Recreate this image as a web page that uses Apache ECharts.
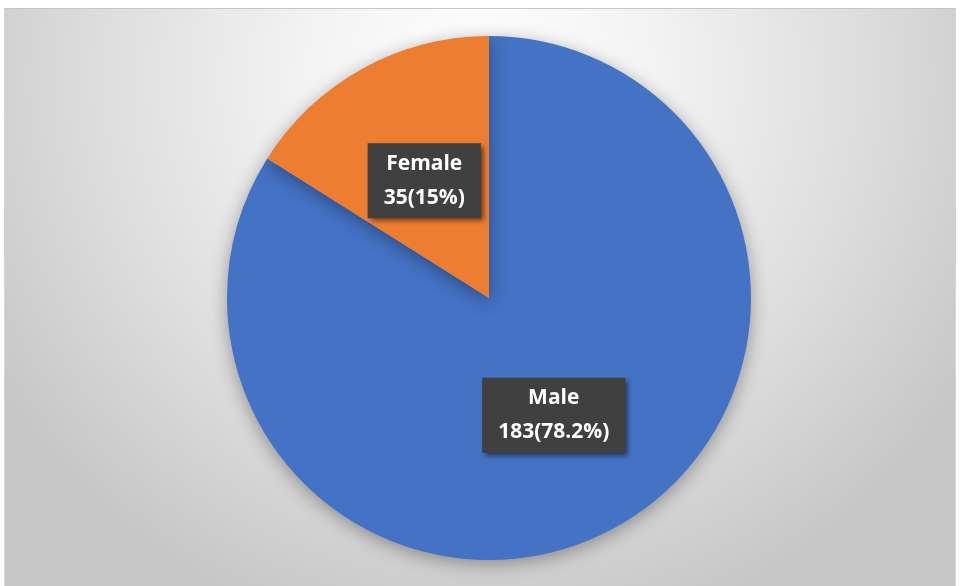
<!DOCTYPE html>
<html>
<head>
<meta charset="utf-8">
<script src="https://cdn.jsdelivr.net/npm/echarts@6/dist/echarts.min.js"></script>
<style>
  html, body { margin: 0; padding: 0; background: #fff; }
  #chart {
    position: absolute;
    left: 4px;
    top: 8px;
    width: 952px;
    height: 578px;
    border-top: 1px solid #c6c6c6;
    border-left: 1px solid #d6d6d6;
    border-right: 1px solid #d6d6d6;
    box-sizing: border-box;
  }
</style>
</head>
<body>
<div id="chart"></div>
<script>
// data
const categories = ['Male', 'Female']
const counts = [183, 35]
const percentLabels = ['78.2%', '15%']
const colors = ['#4472C4', '#ED7D31']

const chart = echarts.init(document.getElementById('chart'))

const pieData = categories.map((name, i) => ({
  name,
  value: counts[i],
  pct: percentLabels[i],
  itemStyle: { color: colors[i] },
}))

chart.setOption({
  backgroundColor: new echarts.graphic.RadialGradient(0.5, 0.12, 1.0, [
    { offset: 0, color: '#ffffff' },
    { offset: 0.3, color: '#f3f3f3' },
    { offset: 0.65, color: '#dedede' },
    { offset: 1, color: '#c6c6c6' },
  ]),
  animation: false,
  series: [
    {
      type: 'pie',
      center: [484, 289],
      radius: 262,
      startAngle: 90,
      clockwise: true,
      data: pieData,
      itemStyle: {
        shadowBlur: 18,
        shadowOffsetY: 4,
        shadowColor: 'rgba(0,0,0,0.35)',
      },
      label: {
        position: 'inside',
        formatter: (p) => p.name + '\n' + p.value + '(' + p.data.pct + ')',
        color: '#ffffff',
        fontFamily: 'Open Sans',
        fontWeight: 'bold',
        fontSize: 21,
        lineHeight: 34,
        backgroundColor: '#404040',
        padding: [4, 16, 3, 16],
        shadowColor: 'rgba(0,0,0,0.55)',
        shadowBlur: 5,
        shadowOffsetX: 3,
        shadowOffsetY: 3,
      },
      labelLine: { show: false },
      emphasis: { disabled: true },
    },
  ],
})
</script>
</body>
</html>
